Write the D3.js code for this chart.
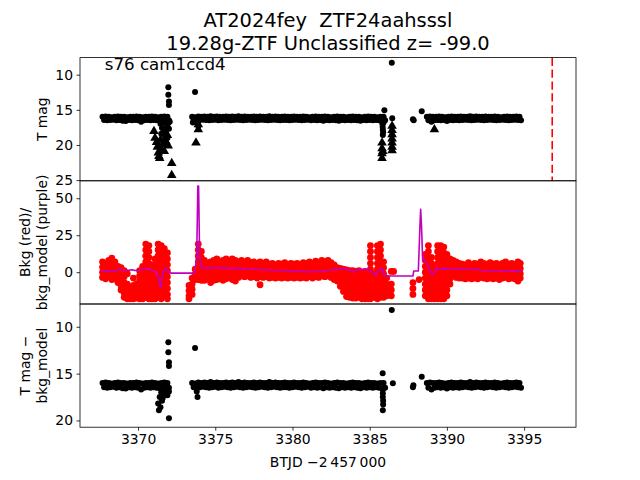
<!DOCTYPE html>
<html><head><meta charset="utf-8">
<script src="https://cdn.jsdelivr.net/npm/d3@7"></script>
<style>body{margin:0;background:#fff} text{font-family:"DejaVu Sans",sans-serif;fill:#000;white-space:pre}</style>
</head><body><svg id="c" width="640" height="480"></svg>
<script>
// ---------- DATA ----------
const titleLines = ["AT2024fey  ZTF24aahsssl", "19.28g-ZTF Unclassified z= -99.0"];
const sectorLabel = "s76 cam1ccd4";
const xLabel = "BTJD \u22122\u2009457\u2009000";
const xTicks = [3370, 3375, 3380, 3385, 3390, 3395];
const y1Ticks = [10, 15, 20, 25];
const y2Ticks = [0, 25, 50];
const y3Ticks = [10, 15, 20];
const discoveryT = 3396.82;

// dense light-curve band (times, upper and lower edge values in mag)
const bandT = [
 3367.7,3367.9,3368.1,3368.3,3368.5,3368.7,3368.9,3369.1,3369.3,3369.5,3369.7,3369.9,3370.1,3370.3,3370.5,3370.7,3370.9,3371.1,3371.3,3371.5,3371.7,3371.9,
 3373.5,3373.7,3373.9,3374.1,3374.3,3374.5,3374.7,3374.9,3375.1,3375.3,3375.5,3375.7,3375.9,3376.1,3376.3,3376.5,3376.7,3376.9,3377.1,3377.3,3377.5,3377.7,3377.9,3378.1,3378.3,3378.5,3378.7,3378.9,3379.1,3379.3,3379.5,3379.7,3379.9,3380.1,3380.3,3380.5,3380.7,3380.9,3381.1,3381.3,3381.5,3381.7,3381.9,3382.1,3382.3,3382.5,3382.7,3382.9,3383.1,3383.3,3383.5,3383.7,3383.9,3384.1,3384.3,3384.5,3384.7,3384.9,3385.1,3385.3,3385.5,3385.7,3385.9,
 3388.7,3388.9,3389.1,3389.3,3389.5,3389.7,3389.9,3390.1,3390.3,3390.5,3390.7,3390.9,3391.1,3391.3,3391.5,3391.7,3391.9,3392.1,3392.3,3392.5,3392.7,3392.9,3393.1,3393.3,3393.5,3393.7,3393.9,3394.1,3394.3,3394.5,3394.7];
const bandHi = [
 16.0,15.95,16.0,16.05,16.0,15.95,16.0,16.0,16.05,16.0,16.0,15.95,16.0,16.05,16.0,16.0,15.95,16.0,16.05,16.0,15.95,16.0,
 16.0,16.05,15.95,16.0,15.95,16.0,15.9,16.0,15.95,16.0,
 16.0,15.95,16.0,15.95,16.0,15.9,16.0,15.95,16.0,16.0,
 15.95,16.0,15.95,16.0,16.0,15.9,16.0,15.95,16.0,16.0,
 15.95,16.0,16.0,15.95,16.0,16.0,15.95,16.0,16.05,16.0,
 15.95,16.0,16.0,15.95,16.0,16.05,16.0,15.95,16.0,16.0,
 16.05,16.0,15.95,16.0,16.0,16.05,16.0,15.95,16.0,16.0,
 16.05,16.0,16.0,
 16.0,15.95,16.0,16.0,15.95,16.0,16.05,16.0,15.95,16.0,16.0,15.95,16.0,16.0,15.9,16.0,15.95,16.0,16.0,15.95,16.0,16.0,15.95,16.0,16.05,16.0,15.95,16.0,16.0,15.95,16.0];
const bandLo = [
 16.45,16.5,16.45,16.4,16.5,16.45,16.55,16.6,16.45,16.5,16.45,16.5,16.7,16.5,16.45,16.5,16.45,16.5,16.55,16.5,16.45,16.5,
 16.45,16.5,16.45,16.4,16.45,16.5,16.45,16.4,16.5,16.45,
 16.4,16.45,16.5,16.45,16.4,16.45,16.5,16.45,16.4,16.45,
 16.5,16.45,16.4,16.45,16.5,16.45,16.4,16.45,16.5,16.45,
 16.45,16.5,16.45,16.4,16.45,16.5,16.45,16.4,16.5,16.45,
 16.5,16.45,16.55,16.45,16.5,16.45,16.5,16.55,16.45,16.5,
 16.45,16.5,16.45,16.5,16.55,16.45,16.5,16.45,16.5,16.45,
 16.5,16.55,16.5,
 16.5,16.7,16.5,16.45,16.5,16.45,16.6,16.45,16.5,16.45,16.5,16.45,16.4,16.45,16.5,16.45,16.4,16.45,16.5,16.45,16.4,16.45,16.5,16.45,16.4,16.45,16.5,16.45,16.4,16.45,16.5];

// panel 1: extra detections (circles) and upper limits (triangles)
const det1T = [3371.96,3371.96,3372.0,3372.0,3373.69,
 3371.45,3371.55,3371.65,3371.75,3371.85,3371.95,3372.0,3371.7,3371.6,3371.8,3372.05,3371.5,3371.9,
 3373.55,3373.85,3373.9,
 3385.8,3385.82,3385.84,3385.85,3385.87,3385.85,3385.9,
 3385.95,3386.43,3386.46,3387.8,3387.85,3388.37];
const det1M = [11.8,12.85,13.8,14.3,12.47,
 17.0,17.6,18.2,18.8,17.3,16.9,17.7,19.4,16.8,18.0,16.7,18.4,19.0,
 16.8,16.9,17.3,
 16.6,17.0,17.4,17.8,18.2,18.6,16.8,
 15.07,8.3,16.2,16.35,16.5,15.2];
const lim1T = [3371.03,3371.1,3371.2,3371.25,3371.31,3371.35,3371.4,3371.45,3371.5,3371.6,3371.7,3371.8,3371.9,3371.95,3372.18,3372.18,
 3373.75,3373.9,3373.9,
 3385.8,3385.8,3385.8,3385.8,3385.85,
 3386.45,3386.45,3386.45,3386.45,3386.45,3386.45,3386.45,3389.19];
const lim1M = [18.06,19.0,19.6,20.3,21.1,21.6,21.9,19.3,20.6,19.9,20.9,19.5,18.6,20.1,22.6,24.3,
 19.7,17.1,17.8,
 19.7,20.5,21.2,21.9,20.9,
 17.3,17.9,18.5,19.1,19.7,20.3,20.8,17.8];

// panel 2: background (red points, grouped by time) and background model (purple line)
const bkgT = [3367.7,3367.9,3368.1,3368.3,3368.5,3368.7,3368.9,3369.1,3369.3,3369.5,3369.7,3369.9,3370.1,3370.3,3370.5,3370.7,3370.9,3371.1,3371.3,3371.5,3371.7,3371.9,
 3373.3,3373.5,3373.7,3373.9,3374.1,3374.3,3374.5,3374.7,3374.9,3375.1,3375.3,3375.5,3375.7,3375.9,3376.1,3376.3,3376.5,
 3376.7,3376.9,3377.1,3377.3,3377.5,3377.7,3377.9,3378.1,3378.3,3378.5,3378.7,3378.9,3379.1,3379.3,3379.5,3379.7,3379.9,3380.1,3380.3,3380.5,3380.7,3380.9,3381.1,3381.3,3381.5,3381.7,3381.9,3382.1,3382.3,3382.5,3382.7,
 3382.9,3383.1,3383.3,3383.5,3383.7,3383.9,3384.1,3384.3,3384.5,3384.7,3384.9,3385.05,3385.25,3385.5,3385.7,3385.9,3386.1,3386.4,3386.55,
 3387.8,3388.2,3388.6,3388.8,3389.0,3389.2,3389.4,3389.6,3389.8,3390.0,
 3390.2,3390.4,3390.6,3390.8,3391.0,3391.2,3391.4,3391.6,3391.8,3392.0,3392.2,3392.4,3392.6,3392.8,3393.0,3393.2,3393.4,3393.6,3393.8,3394.0,3394.2,3394.4,3394.6,3394.75];
const bkgV = [
 [7,3.5,0,-3.5],[6,2.5,-1,-4.5],[8,4,0.5,-3],[9.5,6,2,-2,-5],[7,3,-1,-4.5],
 [4,0.5,-3,-7],[3,-1,-5,-9,-12],[1,-3,-7,-11,-14,-17],[-1,-8,-12,-15,-18],[-10,-13,-16,-18],[-4,-9,-12.5,-15.5,-18],[-8,-11,-14.5,-17.5],
 [1,-2.5,-6,-9.5,-13,-16,-18],[4,0,-4,-8,-11.5,-15,-18],[19,15,11,7,3,-1,-5,-9,-13,-17],[18,14,10,6,2,-2,-6,-10,-14,-18],
 [5,1,-3,-7,-11,-15,-18],[9,5,1,-3,-7,-11,-15,-18],[19,15,11,7,3,-1,-5,-9,-13,-17],[18,14,10,6,2,-2,-6,-10,-14,-18],
 [16,12,8,4,0,-4,-8,-12,-16],[13,9,5,1,-3,-7,-11,-15,-18],
 [-9,-12.5,-16,-18],[-4,-8,-11.5,-15],[2,-1.5,-5],[19,15,11,7,3,-1,-5],[14,10,6,2,-2,-5.5],
 [8,4.5,1,-2.5,-5.5],[6,2.5,-1,-4.5],[7,3.5,0,-3.5,-7],[8,4.5,1,-2.5,-5.5],[9,5.5,2,-1.5,-5],[6,2.5,-1,-4.5],[8,4.5,1,-2.5,-5.5],[9,5.5,2,-1.5,-4.5],[7,3.5,0,-3.5],[9,5.5,2,-1.5,-5],[8,4.5,1,-2.5,-6],[7,3.5,0,-3.5],
 [8,4.5,1,-2.5],[7,3.5,0,-3],[8,4.5,1,-2.5],[6.5,3,-0.5,-3.5],[7,3.5,0,-3],[6,2.5,-1,-4],[7,3.5,0,-3,-8.5],[6,2.5,-1,-3.5],[7,3.5,0,-3],[5.5,2,-1.5,-4],
 [6,2.5,-1,-3.5],[5,1.5,-2,-4],[6,2.5,-1,-3.5],[5.5,2,-1.5,-4],[6.5,3,-0.5,-3.5],[5,1.5,-2,-4],[6,2.5,-1,-3.5],[5.5,2,-1.5,-4],[6,2.5,-1,-3.5],[5,1.5,-2,-4],
 [6.5,3,-0.5,-3.5],[6,2.5,-1,-4],[7,3.5,0,-3],[6,2.5,-1,-4],[7.5,4,0.5,-3],[6.5,3,-0.5,-3.5],[8,4.5,1,-2.5],[7,3.5,0,-3],[8,4.5,1,-2.5],[6.5,3,-0.5,-3.5],[5,1.5,-2,-5],
 [3,0,-3,-6],[2.5,-0.5,-3.5,-6.5,-9.5],[2,-1,-4,-7,-10,-13],[1.5,-1.5,-4.5,-7.5,-10.5,-13.5,-16.5],[1,-2,-5,-8,-11,-14,-17],[1,-2,-5,-8,-11,-14,-17.5],
 [0.5,-2.5,-5.5,-8.5,-11.5,-14.5,-17.5],[1,-2,-5,-8,-11,-14,-17],[0,-3,-6,-9,-12,-15,-18],[0.5,-2.5,-5.5,-8.5,-11.5,-15,-18],
 [-2,-6,-10,-14,-18],[18,14,10,6,2,-2,-6,-10,-14,-18],[-1,-5,-9,-13,-17],[18,14,10,6,2,-2,-6,-10,-14,-18],[19,15,11,7,3,-1,-5,-9,-13,-17],[7,3,-1,-5,-9,-13,-17],[-4,-8,-12,-16],
 [0.5,-8,-12,-16],[0.5],
 [-7,-11,-15],[-5],[12,8,4,0,-4,-8,-12,-16],[18,14,10,6,2,-2,-6,-10,-14,-18],[10,6,2,-2,-6,-10,-14,-18],[4,0,-4,-8,-12,-16,-18],
 [18,14,10,6,2,-2,-6,-10,-14,-18],[18,14,10,6,2,-2,-6,-10,-14,-18],[17,13,9,5,1,-3,-7,-11,-15,-18],[12,8,4,0,-4,-8,-12,-16],
 [9,5.5,2,-1.5,-4.5,-8],[8,4.5,1,-2.5],[7,3.5,0,-3.5],[6,2.5,-1,-4],[5.5,2,-1.5,-4],[5,1.5,-2,-4.5],[6.5,3,-0.5,-4],[5,1.5,-2,-4.5],[6,2.5,-1,-4],[5.5,2,-1.5,-4.5],
 [7,3.5,0,-3.5],[6,2.5,-1,-4],[5,1.5,-2,-4.5],[6.5,3,-0.5,-4],[5.5,2,-1.5,-4.5],[6,2.5,-1,-4],[5,1.5,-2,-5],[6,2.5,-1,-4],[7,3.5,0,-3.5],[5.5,2,-1.5,-4.5],
 [6,2.5,-1,-4],[5,1.5,-2,-4.5],[7,3.5,0,-3.5,-6],[6,2.5,-1,-4]];
const modelT = [3367.6,3368.0,3368.3,3368.6,3368.8,3369.0,3369.2,3369.4,3369.6,3369.8,3370.0,3370.2,3370.5,3370.8,3371.1,3371.25,3371.35,3371.45,3371.55,3371.65,3371.8,3371.95,3372.1,
 3373.6,3373.7,3373.8,3373.87,3373.92,3373.98,3374.05,3374.3,3374.6,3375.0,3375.4,3375.8,3376.2,3376.6,3377.0,3377.5,3378.0,3378.5,3379.0,3379.5,3380.0,3380.5,3381.0,3381.5,3382.0,3382.4,3382.8,3383.0,3383.3,3383.7,3383.95,3384.2,3384.5,3384.85,3385.2,3385.4,3385.6,3385.83,3385.94,
 3387.8,3387.85,3388.15,3388.25,3388.3,3388.36,3388.43,3388.6,3388.8,3389.0,3389.15,3389.3,3389.45,3389.8,3390.2,3390.6,3391.0,3391.5,3392.0,3392.2,3392.6,3393.0,3393.5,3394.0,3394.5,3394.9];
const modelV = [0.8,1.0,0.7,0.9,2.4,1.2,1.5,1.3,1.6,1.2,1.4,1.5,2.6,1.8,0.5,-1.5,-4,-10.5,-4,1,2.8,0.5,-0.6,
 -0.6,1.2,12,58.3,58.3,15,4,2.5,2.9,2.8,3.1,2.6,2.7,2.6,2.3,2.0,1.8,1.5,1.2,1.0,0.8,0.6,0.3,0.5,0.8,1.3,1.9,2.2,2.6,1.3,0.2,2.0,1.8,2.0,-0.3,-1.7,1.3,2.6,-2.6,
 -2.6,0.8,0.8,30,42.5,30,8,8,4,-1,-1.4,3,2,2.4,2.2,2.0,2.3,2.0,1.8,1.2,1.0,0.8,1.1,0.9,0.7,0.8];

// panel 3: extra points of T mag - bkg_model
const det3T = [3371.96,3371.96,3372.0,3372.0,3372.0,3373.69,
 3371.3,3371.35,3371.4,3371.5,3371.6,3371.7,3371.8,3371.9,3372.0,3371.45,3371.55,
 3373.85,3373.8,
 3385.84,3385.85,3385.85,3385.85,3385.87,3385.87,3385.85,
 3386.43,3386.5,3387.83,3387.8,3388.37];
const det3M = [11.66,12.73,13.8,14.2,19.77,12.27,
 18.2,18.9,17.5,17.0,17.6,17.2,16.9,17.3,16.9,18.6,17.9,
 17.5,16.9,
 14.97,16.7,17.1,17.5,17.9,18.3,18.9,
 8.21,16.03,16.25,16.45,15.33];

// ---------- CHART ----------
const svg = d3.select("#c");
const L = 80, R = 576, T = 57.6, H = 123.2;
const x = d3.scaleLinear().domain([3366.24, 3398.36]).range([L, R]);
const y1 = d3.scaleLinear().domain([7.57, 25.1]).range([T, T + H]);
const y2 = d3.scaleLinear().domain([-21.5, 61.8]).range([T + 2 * H, T + H]);
const y3 = d3.scaleLinear().domain([7.57, 20.72]).range([T + 2 * H, T + 3 * H]);

const defs = svg.append("defs");
[0, 1, 2].forEach(i => {
  defs.append("clipPath").attr("id", "cp" + i).append("rect")
    .attr("x", L).attr("y", T + i * H).attr("width", R - L).attr("height", H);
});
const g1 = svg.append("g").attr("clip-path", "url(#cp0)");
const g2 = svg.append("g").attr("clip-path", "url(#cp1)");
const g3 = svg.append("g").attr("clip-path", "url(#cp2)");

const rB = 3.0, rR = 3.4;
function band(g, ys) {
  const pts = [];
  bandT.forEach((t, i) => { pts.push([t, bandHi[i]]); pts.push([t + 0.1, bandLo[i]]); });
  g.selectAll(null).data(pts).enter().append("circle")
    .attr("cx", d => x(d[0])).attr("cy", d => ys(d[1])).attr("r", rB).attr("fill", "#000");
}
// panel 1
band(g1, y1);
g1.selectAll(null).data(det1T.map((t, i) => [t, det1M[i]])).enter().append("circle")
  .attr("cx", d => x(d[0])).attr("cy", d => y1(d[1])).attr("r", rB).attr("fill", "#000");
const tri = d3.symbol().type(d3.symbolTriangle).size(40);
g1.selectAll(null).data(lim1T.map((t, i) => [t, lim1M[i]])).enter().append("path")
  .attr("d", tri).attr("transform", d => `translate(${x(d[0])},${y1(d[1])})`).attr("fill", "#000");
g1.append("line").attr("x1", x(discoveryT)).attr("x2", x(discoveryT)).attr("y1", T).attr("y2", T + H)
  .attr("stroke", "#ff0000").attr("stroke-width", 1.6).attr("stroke-dasharray", "8.3,3.6");

// panel 2
const redPts = [];
bkgT.forEach((t, i) => bkgV[i].forEach(v => redPts.push([t, v])));
g2.selectAll(null).data(redPts).enter().append("circle")
  .attr("cx", d => x(d[0])).attr("cy", d => y2(d[1])).attr("r", rR).attr("fill", "#ff0000");
g2.append("path").datum(modelT.map((t, i) => [t, modelV[i]]))
  .attr("d", d3.line().x(d => x(d[0])).y(d => y2(d[1])))
  .attr("fill", "none").attr("stroke", "#bf00bf").attr("stroke-width", 1.6).attr("stroke-linejoin", "round");

// panel 3
band(g3, y3);
g3.selectAll(null).data(det3T.map((t, i) => [t, det3M[i]])).enter().append("circle")
  .attr("cx", d => x(d[0])).attr("cy", d => y3(d[1])).attr("r", rB).attr("fill", "#000");

// axes
function yAxis(scale, ticks) {
  const a = svg.append("g").attr("transform", `translate(${L},0)`)
    .call(d3.axisLeft(scale).tickValues(ticks).tickSize(3.5).tickPadding(3.5).tickFormat(d3.format("d")));
  a.select(".domain").remove();
  a.selectAll("line").attr("stroke-width", 0.8);
  a.selectAll("text").attr("font-size", "13.9px").attr("font-family", "DejaVu Sans");
}
yAxis(y1, y1Ticks); yAxis(y2, y2Ticks); yAxis(y3, y3Ticks);
const xa = svg.append("g").attr("transform", `translate(0,${T + 3 * H})`)
  .call(d3.axisBottom(x).tickValues(xTicks).tickSize(3.5).tickPadding(3.5).tickFormat(d3.format("d")));
xa.select(".domain").remove();
xa.selectAll("line").attr("stroke-width", 0.8);
xa.selectAll("text").attr("font-size", "13.9px").attr("font-family", "DejaVu Sans");

[0, 1, 2].forEach(i => {
  svg.append("rect").attr("x", L).attr("y", T + i * H).attr("width", R - L).attr("height", H)
    .attr("fill", "none").attr("stroke", "#000").attr("stroke-width", 0.8);
});

// texts
const cx = (L + R) / 2;
svg.append("text").attr("x", cx).attr("y", 27).attr("text-anchor", "middle").attr("font-size", "19.44px").text(titleLines[0]);
svg.append("text").attr("x", cx).attr("y", 49.5).attr("text-anchor", "middle").attr("font-size", "19.44px").text(titleLines[1]);
svg.append("text").attr("x", 104.8).attr("y", 69.5).attr("font-size", "16.67px").text(sectorLabel);
svg.append("text").attr("x", cx).attr("y", 467).attr("text-anchor", "middle").attr("font-size", "13.9px").text(xLabel);

function yLabel(lines, yc) {
  lines.forEach((s, k) => {
    svg.append("text").attr("transform", `translate(${46.5 - 16.7 * (lines.length - 1 - k)},${yc}) rotate(-90)`)
      .attr("text-anchor", "middle").attr("font-size", "13.9px").text(s);
  });
}
yLabel(["T mag"], T + H / 2);
yLabel(["Bkg (red)/", "bkg_model (purple)"], T + 1.5 * H);
yLabel(["T mag \u2212", "bkg_model"], T + 2.5 * H);
</script></body></html>
